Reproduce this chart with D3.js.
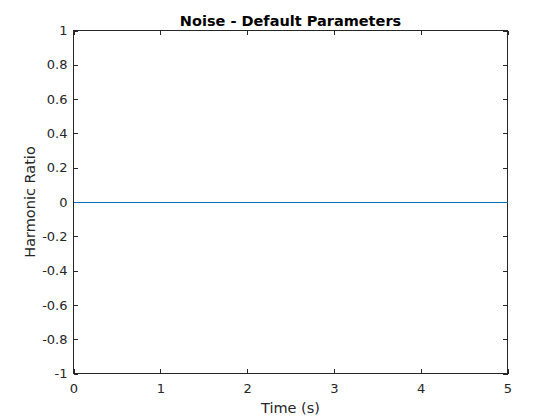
<!DOCTYPE html>
<html><head><meta charset="utf-8">
<script src="https://cdn.jsdelivr.net/npm/d3@7"></script>
<style>body{margin:0;background:#fff;} svg{display:block;}</style>
</head><body>
<svg id="c" width="560" height="420"></svg>
<script>
const timeValues = [0, 1, 2, 3, 4, 5];
const harmonicRatio = [0, 0, 0, 0, 0, 0];
const xTicks = [0, 1, 2, 3, 4, 5];
const yTicks = [-1, -0.8, -0.6, -0.4, -0.2, 0, 0.2, 0.4, 0.6, 0.8, 1];
const titleText = "Noise - Default Parameters";
const xLabel = "Time (s)";
const yLabel = "Harmonic Ratio";

const svg = d3.select("#c");
svg.append("rect").attr("width",560).attr("height",420).attr("fill","#fff");
const L=73.5, R=507.5, T=30.5, B=373.5;
const x = d3.scaleLinear().domain([0,5]).range([L,R]);
const y = d3.scaleLinear().domain([-1,1]).range([B,T]);
const axisColor = "#262626";
const font = "DejaVu Sans, sans-serif";
const tl = 4.5;

const fmt = d => d===0 ? "0" : String(d);

const gx = svg.append("g").attr("transform",`translate(0,${B})`)
  .call(d3.axisBottom(x).tickValues(xTicks).tickSize(-tl).tickPadding(10).tickFormat(fmt));
const gxt = svg.append("g").attr("transform",`translate(0,${T})`)
  .call(d3.axisTop(x).tickValues(xTicks).tickSize(-tl).tickFormat(""));
const gy = svg.append("g").attr("transform",`translate(${L},0)`)
  .call(d3.axisLeft(y).tickValues(yTicks).tickSize(-tl).tickPadding(6).tickFormat(fmt));
const gyr = svg.append("g").attr("transform",`translate(${R},0)`)
  .call(d3.axisRight(y).tickValues(yTicks).tickSize(-tl).tickFormat(""));

[gx,gxt,gy,gyr].forEach(g=>{
  g.select(".domain").remove();
  g.selectAll("line").attr("stroke",axisColor).attr("stroke-width",1).attr("shape-rendering","crispEdges");
  g.selectAll("text").attr("fill",axisColor).style("font-family",font).style("font-size","13px");
});
svg.append("rect").attr("x",L).attr("y",T).attr("width",R-L).attr("height",B-T)
  .attr("fill","none").attr("stroke",axisColor).attr("stroke-width",1).attr("shape-rendering","crispEdges");

const line = d3.line().x((d,i)=>x(timeValues[i])).y(d=>y(d));
svg.append("path").datum(harmonicRatio).attr("d",line)
  .attr("fill","none").attr("stroke","#0072BD").attr("stroke-width",1).attr("shape-rendering","crispEdges");

svg.append("text").attr("x",(L+R)/2).attr("y",26).attr("text-anchor","middle")
  .style("font-family",font).style("font-size","14.5px").style("font-weight","bold")
  .attr("fill","#000").text(titleText);
svg.append("text").attr("x",(L+R)/2).attr("y",413).attr("text-anchor","middle")
  .style("font-family",font).style("font-size","14.5px").attr("fill",axisColor).text(xLabel);
svg.append("text").attr("transform",`translate(35,${(T+B)/2}) rotate(-90)`).attr("text-anchor","middle")
  .style("font-family",font).style("font-size","14.5px").attr("fill",axisColor).text(yLabel);
</script>
</body></html>
